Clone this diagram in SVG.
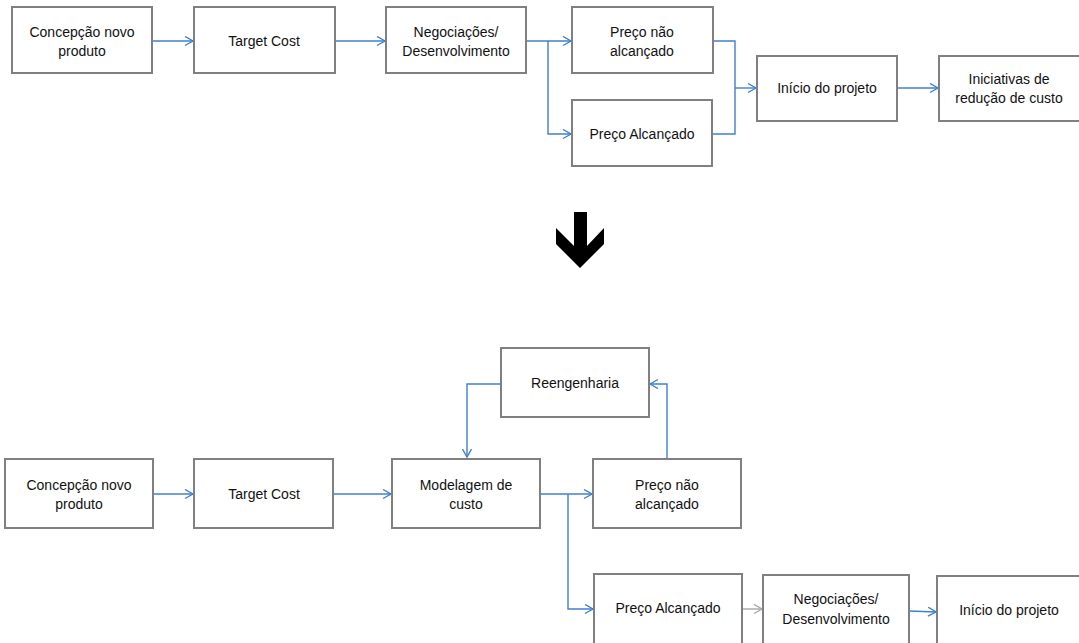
<svg xmlns="http://www.w3.org/2000/svg" width="1079" height="643" viewBox="0 0 1079 643">
<defs>
<marker id="ab" markerUnits="userSpaceOnUse" markerWidth="12" markerHeight="12" refX="9" refY="5" orient="auto">
<path d="M1,0.5 L9,5 L1,9.5" fill="none" stroke="#3F80CC" stroke-width="1.4"/>
</marker>
<marker id="ag" markerUnits="userSpaceOnUse" markerWidth="12" markerHeight="12" refX="9" refY="5" orient="auto">
<path d="M1,0.5 L9,5 L1,9.5" fill="none" stroke="#A6A6A6" stroke-width="1.4"/>
</marker>
</defs>
<style>
.box{fill:#fff;stroke:#808080;stroke-width:2}
.t{font-family:"Liberation Sans",Arial,sans-serif;font-size:14px;fill:#111;text-anchor:middle}
.c{fill:none;stroke:#3F80CC;stroke-width:1.4}
.g{fill:none;stroke:#A6A6A6;stroke-width:1.4}
</style>
<rect width="1079" height="643" fill="#fff"/>
<g id="connectors">
<path class="c" d="M152,41 H193" marker-end="url(#ab)"/>
<path class="c" d="M335,41 H385" marker-end="url(#ab)"/>
<path class="c" d="M526,41 H571" marker-end="url(#ab)"/>
<path class="c" d="M548,41 V134 H571" marker-end="url(#ab)"/>
<path class="c" d="M713,41 H735 V134 H712"/>
<path class="c" d="M735,88 H756" marker-end="url(#ab)"/>
<path class="c" d="M897,88 H938" marker-end="url(#ab)"/>
<path class="c" d="M153,494 H193" marker-end="url(#ab)"/>
<path class="c" d="M333,494 H391" marker-end="url(#ab)"/>
<path class="c" d="M540,494 H592" marker-end="url(#ab)"/>
<path class="c" d="M568,494 V609 H593" marker-end="url(#ab)"/>
<path class="g" d="M742,609 H762" marker-end="url(#ag)"/>
<path class="c" d="M909,611 L936,612" marker-end="url(#ab)"/>
<path class="c" d="M501,384 H467 V457" marker-end="url(#ab)"/>
<path class="c" d="M667,459 V384 H650" marker-end="url(#ab)"/>
</g>
<g id="n1"><rect class="box" x="12" y="7" width="140" height="66"/><text class="t" x="82" y="37">Concepção novo</text><text class="t" x="82" y="56">produto</text></g>
<g id="n2"><rect class="box" x="194" y="7" width="141" height="66"/><text class="t" x="264" y="46">Target Cost</text></g>
<g id="n3"><rect class="box" x="386" y="7" width="140" height="66"/><text class="t" x="456" y="37">Negociações/</text><text class="t" x="456" y="56">Desenvolvimento</text></g>
<g id="n4"><rect class="box" x="572" y="7" width="141" height="66"/><text class="t" x="642" y="37">Preço não</text><text class="t" x="642" y="56">alcançado</text></g>
<g id="n5"><rect class="box" x="572" y="100" width="140" height="66"/><text class="t" x="642" y="139">Preço Alcançado</text></g>
<g id="n6"><rect class="box" x="757" y="56" width="140" height="65"/><text class="t" x="827" y="93">Início do projeto</text></g>
<g id="n7"><rect class="box" x="939" y="56" width="141" height="65"/><text class="t" x="1009" y="84">Iniciativas de</text><text class="t" x="1009" y="103">redução de custo</text></g>
<g id="arrow"><polygon points="574,212 587,212 587,246 604,228 604,244 580,268 556,244 556,228 574,246" fill="#000"/></g>
<g id="m0"><rect class="box" x="501" y="348" width="148" height="69"/><text class="t" x="575" y="388">Reengenharia</text></g>
<g id="m1"><rect class="box" x="5" y="459" width="148" height="69"/><text class="t" x="79" y="490">Concepção novo</text><text class="t" x="79" y="509">produto</text></g>
<g id="m2"><rect class="box" x="194" y="459" width="139" height="69"/><text class="t" x="264" y="499">Target Cost</text></g>
<g id="m3"><rect class="box" x="392" y="459" width="148" height="69"/><text class="t" x="466" y="490">Modelagem de</text><text class="t" x="466" y="509">custo</text></g>
<g id="m4"><rect class="box" x="593" y="459" width="148" height="69"/><text class="t" x="667" y="490">Preço não</text><text class="t" x="667" y="509">alcançado</text></g>
<g id="m5"><rect class="box" x="594" y="574" width="148" height="72"/><text class="t" x="668" y="613">Preço Alcançado</text></g>
<g id="m6"><rect class="box" x="763" y="575" width="146" height="71"/><text class="t" x="836" y="604">Negociações/</text><text class="t" x="836" y="624">Desenvolvimento</text></g>
<g id="m7"><rect class="box" x="937" y="576" width="145" height="70"/><text class="t" x="1009" y="615">Início do projeto</text></g>
</svg>
